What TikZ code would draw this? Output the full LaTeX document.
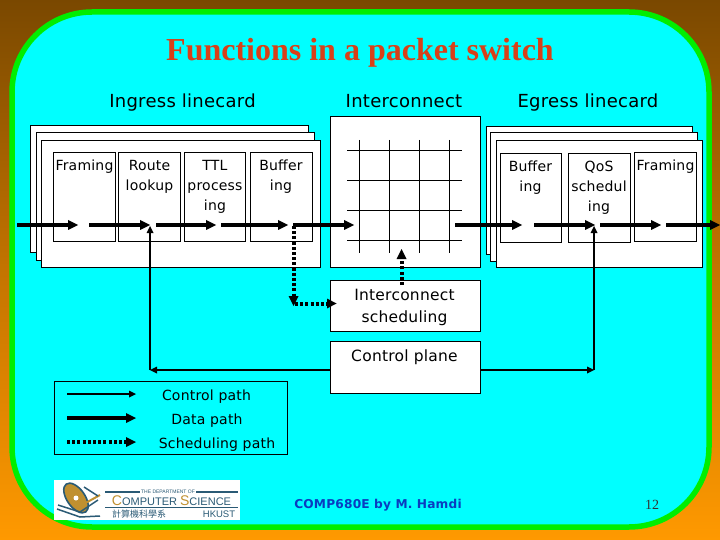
\documentclass[tikz,border=0pt]{standalone}
\usepackage{fontspec}
\setmainfont[LetterSpace=1.5]{DejaVu Sans}
\newfontfamily\titlefont{Liberation Serif}
\newfontfamily\cjkfont{Noto Sans CJK TC}
\newfontfamily\logofont{Liberation Sans}
\usetikzlibrary{arrows.meta}
\definecolor{slidecyan}{HTML}{00FFFF}
\definecolor{slidegreen}{HTML}{00EE00}
\definecolor{slidetop}{HTML}{7A4800}
\definecolor{slidebottom}{HTML}{FF9900}
\definecolor{titlered}{HTML}{D84018}
\definecolor{footblue}{HTML}{0A3CC0}
\definecolor{logoblue}{HTML}{2A5A75}
\definecolor{logogold}{HTML}{C09030}
\tikzset{
  card/.style={draw=black,fill=white,line width=1pt},
  func/.style={draw=black,fill=white,line width=0.9pt,align=center},
  lbl/.style={font=\fontsize{14}{20}\selectfont,align=center,inner sep=0pt,text=black},
  biglbl/.style={font=\fontsize{15.5}{22}\selectfont,align=center,inner sep=0pt,text=black},
  leg/.style={font=\fontsize{14}{16}\selectfont,inner sep=0pt,text=black,anchor=base},
  head/.style={font=\fontsize{18}{20}\selectfont,inner sep=0pt,text=black,anchor=base},
  gridline/.style={draw=black,line width=0.9pt},
  datahead/.style={fill=black,draw=none},
  datapath/.style={draw=black,line width=3.6pt},
  ctrlpath/.style={draw=black,line width=1.6pt},
  ctrlhead/.style={fill=black,draw=none},
  schedpath/.style={draw=black,line width=4pt,dash pattern=on 3pt off 2.2pt},
  schedhead/.style={fill=black,draw=none},
}
\newcommand{\dataarrow}[3]{% x1 x2 y
  \draw[datapath] (#1,#3) -- (#2-8,#3);
  \fill[datahead] (#2-10,#3-5) -- (#2,#3) -- (#2-10,#3+5) -- cycle;}
\begin{document}
\begin{tikzpicture}[x=1pt,y=-1pt]
\useasboundingbox (0,0) rectangle (720,540);
\shade[top color=slidetop,bottom color=slidebottom,middle color=slidebottom!55!slidetop] (0,0) rectangle (720,540);
\draw[slidegreen,line width=5.5pt,fill=slidecyan,rounded corners=80pt] (12,12) rectangle (709,527);
% title
\node[font=\titlefont\bfseries\fontsize{32}{34}\selectfont,text=titlered,inner sep=0pt,anchor=base] (title) at (360,61) {Functions in a packet switch};
\node[head] (ingress) at (182.5,107.5) {Ingress linecard};
\node[head] (inter) at (404,107.5) {Interconnect};
\node[head] (egress) at (588,107.5) {Egress linecard};
% ingress cards
\filldraw[card] (30.5,125.5) rectangle (308.5,252.5);
\filldraw[card] (36.5,132.5) rectangle (314.5,260);
\filldraw[card] (41.5,140.5) rectangle (320.5,267);
\filldraw[func] (53.5,152.5) rectangle (115.5,241.5);
\filldraw[func] (118.5,152.5) rectangle (180.5,241.5);
\filldraw[func] (184.5,152.5) rectangle (245.5,241.5);
\filldraw[func] (250.5,152.5) rectangle (312.5,241.5);
\node[lbl,anchor=north] (fr1) at (84.5,160) {Framing};
\node[lbl,anchor=north] (ro1) at (149.5,160) {Route\\lookup};
\node[lbl,anchor=north] (tt1) at (215,160) {TTL\\process\\ing};
\node[lbl,anchor=north] (bu1) at (281,160) {Buffer\\ing};
% crossbar
\filldraw[card] (330.5,116.5) rectangle (480.5,267);
\foreach \x in {359.5,389.5,419.5,449.5} \draw[gridline] (\x,140) -- (\x,253);
\foreach \y in {150.5,180.5,210.5,240.5} \draw[gridline] (347,\y) -- (462,\y);
% egress cards
\filldraw[card] (486.5,126.5) rectangle (692,254);
\filldraw[card] (490.5,132.5) rectangle (697,261);
\filldraw[card] (496,140.5) rectangle (702.5,267);
\filldraw[func] (500.5,153.5) rectangle (561,242.5);
\filldraw[func] (568.5,153.5) rectangle (630.5,242.5);
\filldraw[func] (634.5,152.5) rectangle (696.5,241.5);
\node[lbl,anchor=north] (bu2) at (530.5,161) {Buffer\\ing};
\node[lbl,anchor=north] (qo2) at (599,161) {QoS\\schedul\\ing};
\node[lbl,anchor=north] (fr2) at (665.5,160) {Framing};
% lower boxes
\node[func,minimum width=150pt,minimum height=51.5pt,inner sep=0pt] (sched) at (405.5,306) {};
\node[biglbl] (schedt) at (404.5,307) {Interconnect\\scheduling};
\node[func,minimum width=150pt,minimum height=52pt,inner sep=0pt] (ctrl) at (405.5,367) {};
\node[biglbl,anchor=north] (ctrlt) at (404.5,350) {Control plane};
% data path
\dataarrow{17}{78}{225}
\dataarrow{89}{150}{225}
\dataarrow{156}{216}{225}
\dataarrow{221}{288}{225}
\dataarrow{293}{354}{225}
\dataarrow{455}{522}{225}
\dataarrow{534}{595}{225}
\dataarrow{600}{661}{225}
\dataarrow{666}{720}{225}
% control path
\coordinate (cl) at (150,370);
\coordinate (cr) at (594,370);
\draw[ctrlpath] (cl) -- (150,232);
\fill[ctrlhead] (146.5,233) -- (150,226) -- (153.5,233) -- cycle;
\draw[ctrlpath] (cr) -- (594,232);
\fill[ctrlhead] (590.5,233) -- (594,226) -- (597.5,233) -- cycle;
\draw[ctrlpath] (ctrl.west |- cl) -- (155,370);
\fill[ctrlhead] (157,366.5) -- (150,370) -- (157,373.5) -- cycle;
\draw[ctrlpath] (ctrl.east |- cr) -- (589,370);
\fill[ctrlhead] (587,366.5) -- (594,370) -- (587,373.5) -- cycle;
% scheduling path
\draw[schedpath] (293.5,226) -- (293.5,299);
\fill[schedhead] (288.5,296) -- (298.5,296) -- (293.5,306) -- cycle;
\draw[schedpath] (295,303.5) -- (329,303.5);
\fill[schedhead] (327,298.5) -- (336.5,303.5) -- (327,308.5) -- cycle;
\draw[schedpath] (401.5,285) -- (401.5,258);
\fill[schedhead] (396.5,259) -- (406.5,259) -- (401.5,249) -- cycle;
% legend
\draw[draw=black,line width=0.9pt] (54.5,381.5) rectangle (287.5,454.5);
\draw[ctrlpath] (67,394) -- (131,394);
\fill[ctrlhead] (129,390.5) -- (136,394) -- (129,397.5) -- cycle;
\dataarrow{67}{136}{418}
\draw[schedpath] (67,442) -- (128,442);
\fill[schedhead] (126,437) -- (136,442) -- (126,447) -- cycle;
\node[leg] (l1) at (206.5,400.5) {Control path};
\node[leg] (l2) at (207,424.5) {Data path};
\node[leg] (l3) at (217,448.5) {Scheduling path};
% logo
\fill[white] (54,480) rectangle (240,520);
\fill[logogold,rotate around={35:(76,498)}] (76,498) ellipse (9pt and 17pt);
\draw[logoblue,line width=1.6pt,rotate around={35:(76,498)}] (76,498) ellipse (9pt and 17pt);
\fill[white] (76,498) circle (2.5pt);
\draw[logoblue,line width=1.5pt] (57,509) -- (80,517) -- (100,516);
\draw[logoblue,line width=1.5pt] (58,505) -- (80,512) -- (98,500);
\draw[logogold,line width=2pt] (82,505) -- (100,495);
\draw[logoblue,line width=1.5pt] (84,487) -- (98,496);
\draw[logoblue,line width=1.8pt] (105,492) -- (238,492);
\draw[logoblue,line width=1.8pt] (105,507.5) -- (238,507.5);
\node[inner sep=1pt,fill=white,font=\logofont\fontsize{5}{5}\selectfont,text=logoblue] (lg1) at (168,492) {THE DEPARTMENT OF};
\node[inner sep=0pt,font=\logofont\fontsize{11}{12}\selectfont,text=logoblue] (lg2) at (171.5,500.3) {\textcolor{logogold}{\fontsize{14}{12}\selectfont C}OMPUTER \textcolor{logogold}{\fontsize{14}{12}\selectfont S}CIENCE};
\node[inner sep=0pt,font=\cjkfont\fontsize{9}{10}\selectfont,text=logoblue] (lg3) at (139,514.5) {計算機科學系};
\node[inner sep=0pt,font=\logofont\fontsize{9.5}{10}\selectfont,text=logoblue] (lg4) at (219,514.5) {HKUST};
% footer
\node[inner sep=0pt,font=\bfseries\fontsize{12.2}{15}\selectfont,text=footblue,anchor=base] (foot) at (378,508) {COMP680E by M. Hamdi};
\node[inner sep=0pt,font=\titlefont\fontsize{14}{16}\selectfont,text=black!80,anchor=base] (num) at (652,509) {12};
\end{tikzpicture}
\end{document}
